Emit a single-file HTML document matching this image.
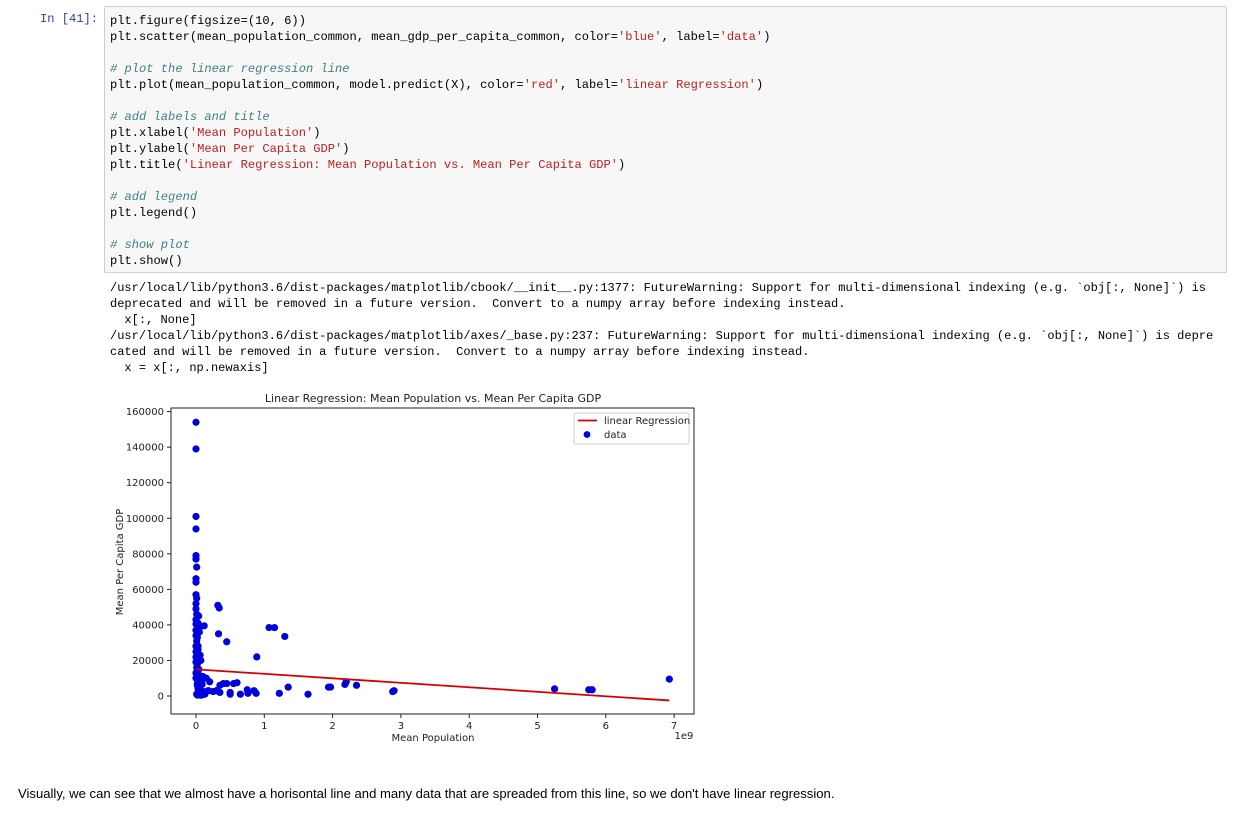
<!DOCTYPE html>
<html><head><meta charset="utf-8"><style>
body{margin:0;width:1240px;height:823px;background:#fff;position:relative;overflow:hidden;font-family:"Liberation Sans",sans-serif}
.prompt{position:absolute;left:40px;top:12px;font:12.1px "Liberation Mono",monospace;color:#303F9F}
.code{position:absolute;left:104px;top:6px;width:1121px;height:265px;background:#f7f7f7;border:1px solid #cfcfcf;border-radius:2px}
.code pre,.out pre{margin:0;font:12.1px/16px "Liberation Mono",monospace;color:#000;white-space:pre}
.code pre{position:absolute;left:5px;top:6px}
.c{color:#408080;font-style:italic}.s{color:#BA2121}
.out{position:absolute;left:110px;top:280px}.out pre{font-size:12.03px}
.note{position:absolute;left:18px;top:786px;font-size:13.1px;color:#000}
svg{position:absolute;left:0;top:0}
</style></head><body>
<div class="prompt">In [41]:</div>
<div class="code"><pre>plt.figure(figsize=(10, 6))
plt.scatter(mean_population_common, mean_gdp_per_capita_common, color=<span class="s">'blue'</span>, label=<span class="s">'data'</span>)

<span class="c"># plot the linear regression line</span>
plt.plot(mean_population_common, model.predict(X), color=<span class="s">'red'</span>, label=<span class="s">'linear Regression'</span>)

<span class="c"># add labels and title</span>
plt.xlabel(<span class="s">'Mean Population'</span>)
plt.ylabel(<span class="s">'Mean Per Capita GDP'</span>)
plt.title(<span class="s">'Linear Regression: Mean Population vs. Mean Per Capita GDP'</span>)

<span class="c"># add legend</span>
plt.legend()

<span class="c"># show plot</span>
plt.show()</pre></div>
<div class="out"><pre>/usr/local/lib/python3.6/dist-packages/matplotlib/cbook/__init__.py:1377: FutureWarning: Support for multi-dimensional indexing (e.g. `obj[:, None]`) is
deprecated and will be removed in a future version.  Convert to a numpy array before indexing instead.
  x[:, None]
/usr/local/lib/python3.6/dist-packages/matplotlib/axes/_base.py:237: FutureWarning: Support for multi-dimensional indexing (e.g. `obj[:, None]`) is depre
cated and will be removed in a future version.  Convert to a numpy array before indexing instead.
  x = x[:, np.newaxis]</pre></div>
<svg id="chart" width="1240" height="823"></svg>
<div class="note">Visually, we can see that we almost have a horisontal line and many data that are spreaded from this line, so we don't have linear regression.</div>
<script>
const xTicks=[0,1,2,3,4,5,6,7];
const yTicks=[0,20000,40000,60000,80000,100000,120000,140000,160000];
const dataX=[0,0,0,0,0,0,0.01,0,0,0,0.01,0,0,0.01,0,0,0,0,0.01,0,0,0,0,0.01,0,0,0.02,0.03,0.01,0.02,0.04,0.05,0.02,0.03,0.06,0.01,0.04,0.08,0.02,0.05,0.1,0.12,0.15,0.03,0.07,0.12,0.18,0.2,0.25,0.3,0.32,0.34,0.33,0.45,0.89,1.07,1.15,1.3,1.35,1.22,1.64,1.94,1.97,2.18,2.2,2.35,2.88,2.9,5.25,5.75,5.8,6.93,0.35,0.4,0.45,0.5,0.55,0.6,0.65,0.75,0.76,0.85,0.88,0.5,0.35,0.18,0.3,0.08,0.06,0.04,0.05,0.07,0.09,0.11,0.06,0.08,0.03,0.05,0.09,0.13,0.04,0.06,0.02];
const dataY=[154000,139000,101000,94000,79000,77000,72500,66000,64000,57000,55000,52000,49000,46000,43000,40500,37000,34000,31000,28000,25000,22000,19000,16000,13000,10000,7000,4000,1000,500,2000,3000,33000,41000,39000,21000,12000,9000,6000,1500,11000,39500,10000,26000,20000,2000,3000,8000,2500,3000,51000,49500,35000,30500,22000,38500,38500,33500,5000,1500,1000,5000,5000,6500,8000,6000,2500,3000,4000,3500,3500,9500,6000,7000,7000,1000,7000,7500,1000,3500,1500,3000,1500,2000,2000,3000,3000,8000,500,15000,5000,3000,1000,2500,9000,500,28000,36000,6500,1000,45000,23000,18000];
const regX=[0,6.93];
const regY=[15000,-2500];
const svg=document.getElementById('chart');const NS='http://www.w3.org/2000/svg';
const L=171,R=694,T=408,B=714;
const sx=v=>196+v*68.3, sy=v=>696-v*0.0017775;
function mk(t,a,txt){const e=document.createElementNS(NS,t);for(const k in a)e.setAttribute(k,a[k]);if(txt!==undefined)e.textContent=txt;svg.appendChild(e);return e;}
const F='font-family:"DejaVu Sans",sans-serif;font-size:10px;fill:#222';
let e=mk('rect',{x:L,y:T,width:R-L,height:B-T,fill:'#fff',stroke:'#222','stroke-width':1});

xTicks.forEach(t=>{mk('line',{x1:sx(t),x2:sx(t),y1:B,y2:B+4,stroke:'#222'});e=mk('text',{x:sx(t),y:B+15,'text-anchor':'middle',style:F},String(t));
});
yTicks.forEach(t=>{mk('line',{x1:L-4,x2:L,y1:sy(t),y2:sy(t),stroke:'#222'});e=mk('text',{x:L-7,y:sy(t)+3.5,'text-anchor':'end',style:F},String(t));
});
dataX.forEach((x,i)=>{e=mk('circle',{cx:sx(x),cy:sy(dataY[i]),r:3.6,fill:'#0000dd'});
});
e=mk('line',{x1:sx(regX[0]),y1:sy(regY[0]),x2:sx(regX[1]),y2:sy(regY[1]),stroke:'#d40000','stroke-width':1.8});

e=mk('text',{x:433,y:402,'text-anchor':'middle',style:F.replace('10px','11px')},'Linear Regression: Mean Population vs. Mean Per Capita GDP');

e=mk('text',{x:433,y:741,'text-anchor':'middle',style:F},'Mean Population');

e=mk('text',{x:684,y:739,'text-anchor':'middle',style:F},'1e9');

e=mk('text',{x:0,y:0,'text-anchor':'middle',transform:'translate(123,562) rotate(-90)',style:F},'Mean Per Capita GDP');

e=mk('rect',{x:574,y:413,width:115,height:31,fill:'#fff',stroke:'#ccc',rx:2});

mk('line',{x1:578,x2:597,y1:420.5,y2:420.5,stroke:'#d40000','stroke-width':1.8});
e=mk('text',{x:604,y:424,style:F},'linear Regression');

mk('circle',{cx:587,cy:434.5,r:3.4,fill:'#0000dd'});
e=mk('text',{x:604,y:438,style:F},'data');

</script>
</body></html>
